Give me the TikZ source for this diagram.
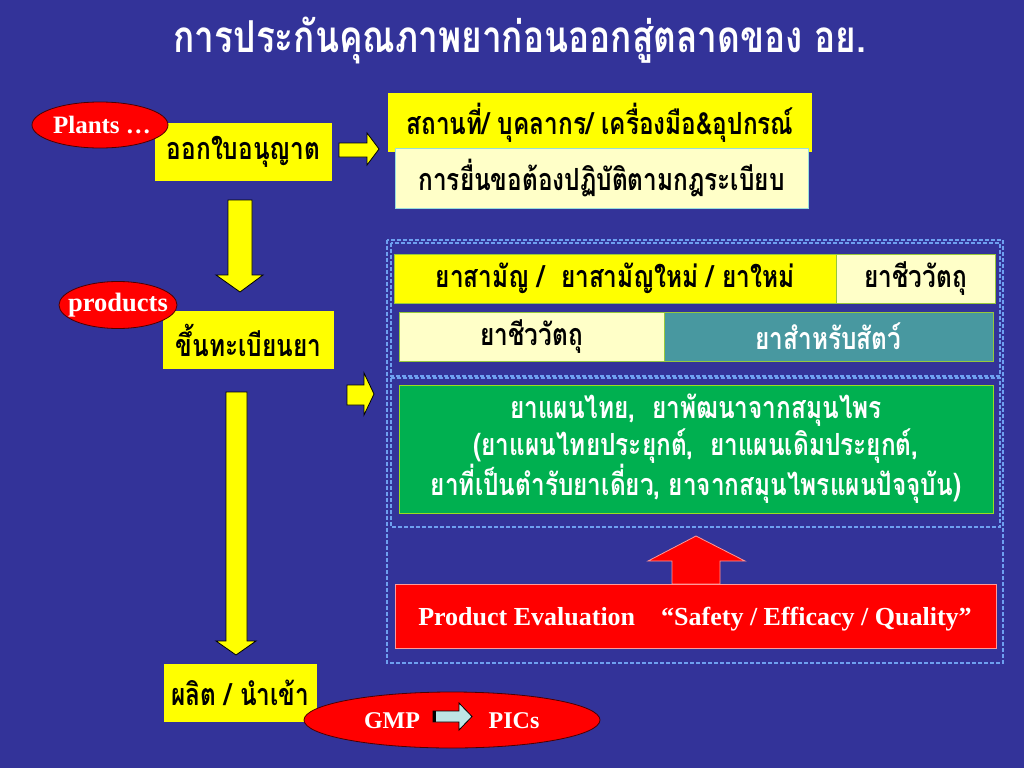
\documentclass[tikz,border=0pt]{standalone}
\usepackage{fontspec}
\setmainfont{Liberation Serif}
\newfontfamily\thai[Script=Thai,FakeStretch=0.8]{Loma}
\usetikzlibrary{shapes.geometric}
\definecolor{bg}{RGB}{51,51,153}
\definecolor{yel}{RGB}{255,255,0}
\definecolor{lyel}{RGB}{255,255,200}
\definecolor{tealc}{RGB}{72,152,160}
\definecolor{grn}{RGB}{0,176,80}
\definecolor{redc}{RGB}{255,0,0}
\definecolor{dashc}{RGB}{110,160,240}
\definecolor{rowb}{RGB}{150,200,60}
\definecolor{gmpa}{RGB}{190,228,228}
\newcommand\bx[7]{\node[#6,minimum width={#4-#2},minimum height={#5-#3}] (#1) at ({(#2+#4)/2},{(#3+#5)/2}) {#7};}
\begin{document}
\begin{tikzpicture}[x=1pt,y=-1pt,
  thaitxt/.style={inner sep=0pt,align=center,font=\thai\bfseries\fontsize{30.5}{37}\selectfont},
  ybox/.style={thaitxt,fill=yel},
  lbox/.style={thaitxt,fill=lyel},
  rowbox/.style={thaitxt,draw=rowb,line width=0.8pt},
  oval/.style={ellipse,fill=redc,draw=black!70!red,line width=0.8pt,inner sep=0pt},
  ltxt/.style={text=white,inner sep=0pt,font=\bfseries\fontsize{24}{28}\selectfont},
  yarrow/.style={fill=yel,draw=black,line width=0.8pt,line join=miter},
  dbox/.style={draw=dashc,dash pattern=on 4pt off 2pt,line width=1.2pt}]
\fill[bg] (0,0) rectangle (1024,768);
\useasboundingbox (0,0) rectangle (1024,768);

% title
\node[text=white,font=\thai\bfseries\fontsize{44}{50}\selectfont,inner sep=0pt] (title) at (520,40) {การประกันคุณภาพยาก่อนออกสู่ตลาดของ อย.};

% left column
\bx{lic}{155}{123}{332}{181}{ybox}{ออกใบอนุญาต}
\bx{reg}{163}{311}{334}{369}{ybox}{ขึ้นทะเบียนยา}
\bx{prod}{164}{664}{317}{722}{ybox}{ผลิต / นำเข้า}
\node[oval,minimum width=136,minimum height=46] (plants) at (100,125) {};
\node[ltxt,font=\bfseries\fontsize{25}{28}\selectfont] (plantst) at (102,125) {Plants …};
\node[oval,minimum width=118,minimum height=47] (products) at (118,305) {};
\node[ltxt,font=\bfseries\fontsize{26.5}{28}\selectfont] (productst) at (118,305) {products};

% top right boxes
\bx{site}{388}{93}{812}{152}{ybox}{สถานที่/ บุคลากร/ เครื่องมือ\&อุปกรณ์}
\bx{rule}{395}{148}{808}{208}{lbox,draw=cyan!40!lyel,line width=0.8pt}{การยื่นขอต้องปฏิบัติตามกฎระเบียบ}

% arrows
\draw[yarrow] (339,143)--(367,143)--(367,133)--(379,149)--(367,165)--(367,157)--(339,157)--cycle;
\draw[yarrow] (228,200)--(252,200)--(252,275)--(263,275)--(240,292)--(216,275)--(228,275)--cycle;
\draw[yarrow] (226,392)--(247,392)--(247,641)--(256,641)--(236,655)--(216,641)--(226,641)--cycle;
\draw[yarrow] (347,385)--(364,385)--(364,373)--(374,394)--(364,415)--(364,405)--(347,405)--cycle;

% dashed containers
\draw[dbox] (387,240) rectangle (1003,663);
\draw[dbox] (391,243) rectangle (1000,376);
\draw[dbox] (391,378) rectangle (1000,527);

% rows
\bx{gen}{394}{254}{836}{303}{rowbox,fill=yel}{ยาสามัญ /\ \ ยาสามัญใหม่ / ยาใหม่}
\bx{bio1}{836}{254}{995}{303}{rowbox,fill=lyel}{ยาชีววัตถุ}
\bx{bio2}{399}{312}{664}{361}{rowbox,fill=lyel}{ยาชีววัตถุ}
\bx{vet}{664}{312}{993}{361}{rowbox,fill=tealc,text=white}{ยาสำหรับสัตว์}
\bx{herb}{399}{385}{993}{513}{rowbox,fill=grn,draw=yel!60!grn,text=white}{ยาแผนไทย,\ \ ยาพัฒนาจากสมุนไพร\\(ยาแผนไทยประยุกต์,\ \ ยาแผนเดิมประยุกต์,\\ยาที่เป็นตำรับยาเดี่ยว, ยาจากสมุนไพรแผนปัจจุบัน)}

% red up arrow and evaluation box
\draw[fill=redc,draw=white!60!redc,line width=0.8pt] (672,584)--(672,561)--(648,561)--(696,536)--(745,561)--(720,561)--(720,584)--cycle;
\bx{eval}{395}{584}{996}{648}{fill=redc,draw=white!60!redc,line width=0.8pt,inner sep=0pt}{}
\node[ltxt,font=\bfseries\fontsize{26}{28}\selectfont] (evalt) at (695,619) {Product Evaluation\ \ \ \ “Safety / Efficacy / Quality”};

% GMP ellipse
\node[oval,minimum width=296,minimum height=56] (gmp) at (452,720) {};
\node[ltxt] (gmpt) at (392,721) {GMP};
\node[ltxt] (pics) at (514,721) {PICs};
\draw[fill=gmpa,draw=black,line width=0.8pt] (433,711)--(459,711)--(459,703)--(472,716.5)--(459,730)--(459,722)--(433,722)--cycle;
\fill[black] (433,711) rectangle (436,722);
\end{tikzpicture}
\end{document}
